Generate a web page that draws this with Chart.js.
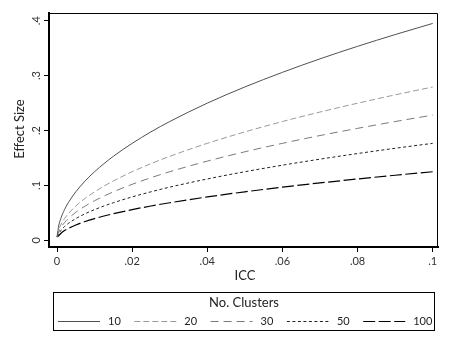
<!DOCTYPE html>
<html>
<head>
<meta charset="utf-8">
<script src="https://cdn.jsdelivr.net/npm/chart.js@4.4.1/dist/chart.umd.min.js"></script>
<style>
html,body{margin:0;padding:0;background:#fff;}
canvas{display:block;}
</style>
</head>
<body>
<canvas id="c" width="452" height="347"></canvas>
<script>
// ---- data ----
const icc   = [0, 0.0005, 0.001, 0.002, 0.003, 0.005, 0.0075, 0.01, 0.0125, 0.015, 0.02, 0.025, 0.03, 0.04, 0.05, 0.06, 0.07, 0.08, 0.09, 0.1];
const es10  = [0.006, 0.0279, 0.0395, 0.0559, 0.0684, 0.0883, 0.1082, 0.1249, 0.1396, 0.1530, 0.1766, 0.1975, 0.2163, 0.2498, 0.2793, 0.3059, 0.3305, 0.3533, 0.3747, 0.3950];
const es20  = [0.006, 0.0197, 0.0279, 0.0395, 0.0484, 0.0624, 0.0765, 0.0883, 0.0987, 0.1081, 0.1249, 0.1396, 0.1529, 0.1766, 0.1974, 0.2163, 0.2336, 0.2497, 0.2649, 0.2792];
const es30  = [0.006, 0.0161, 0.0228, 0.0322, 0.0395, 0.0510, 0.0624, 0.0721, 0.0806, 0.0883, 0.1020, 0.1140, 0.1249, 0.1442, 0.1612, 0.1766, 0.1908, 0.2039, 0.2163, 0.2280];
const es50  = [0.006, 0.0125, 0.0177, 0.0250, 0.0306, 0.0395, 0.0484, 0.0559, 0.0625, 0.0684, 0.0790, 0.0883, 0.0968, 0.1117, 0.1249, 0.1368, 0.1478, 0.1580, 0.1676, 0.1766];
const es100 = [0.006, 0.0088, 0.0125, 0.0177, 0.0216, 0.0279, 0.0342, 0.0395, 0.0442, 0.0484, 0.0559, 0.0625, 0.0684, 0.0790, 0.0883, 0.0968, 0.1045, 0.1117, 0.1185, 0.1249];
const clusterLabels = ['10', '20', '30', '50', '100'];
const xTickValues = [0, 0.02, 0.04, 0.06, 0.08, 0.1];
const xTickLabels = ['0', '.02', '.04', '.06', '.08', '.1'];
const yTickValues = [0, 0.1, 0.2, 0.3, 0.4];
const yTickLabels = ['0', '.1', '.2', '.3', '.4'];
const xTitle = 'ICC';
const yTitle = 'Effect Size';
const legendTitle = 'No. Clusters';

// ---- styles ----
const seriesValues = [es10, es20, es30, es50, es100];
const styles = [
  {color: '#505050', dash: [], width: 1},
  {color: '#9a9a9a', dash: [6, 3], width: 1},
  {color: '#7a7a7a', dash: [8, 5], width: 1},
  {color: '#222222', dash: [3, 2.5], width: 1},
  {color: '#000000', dash: [12, 3.5], width: 1.2}
];
const FONT = 'Lato, "Open Sans", sans-serif';

const datasets = clusterLabels.map((lab, i) => ({
  label: lab,
  data: icc.map((x, j) => ({x: x, y: seriesValues[i][j]})),
  borderColor: styles[i].color,
  borderDash: styles[i].dash,
  borderWidth: styles[i].width,
  pointRadius: 0,
  fill: false,
  cubicInterpolationMode: 'monotone'
}));

const decor = {
  id: 'decor',
  afterDraw(chart) {
    const ctx = chart.ctx;
    const a = chart.chartArea;
    const ys = chart.scales.y;
    ctx.save();
    // thin top/right frame
    ctx.strokeStyle = '#000';
    ctx.lineWidth = 1;
    ctx.beginPath();
    ctx.moveTo(a.left, a.top + 0.5);
    ctx.lineTo(a.right - 0.5, a.top + 0.5);
    ctx.lineTo(a.right - 0.5, a.bottom);
    ctx.stroke();
    // rotated y tick labels
    ctx.fillStyle = '#333';
    ctx.font = '11px ' + FONT;
    ctx.textAlign = 'center';
    ctx.textBaseline = 'middle';
    yTickValues.forEach((v, i) => {
      const py = ys.getPixelForValue(v);
      ctx.save();
      ctx.translate(36.5, py);
      ctx.rotate(-Math.PI / 2);
      ctx.fillText(yTickLabels[i], 0, 0);
      ctx.restore();
    });
    // axis titles
    ctx.font = '13px ' + FONT;
    ctx.fillStyle = '#222';
    ctx.save();
    ctx.translate(20, 129);
    ctx.rotate(-Math.PI / 2);
    ctx.fillText(yTitle, 0, 0);
    ctx.restore();
    ctx.fillText(xTitle, 245, 276);
    // legend box
    ctx.strokeStyle = '#000';
    ctx.lineWidth = 1;
    ctx.strokeRect(53.5, 292.5, 381, 38);
    ctx.font = '13px ' + FONT;
    ctx.fillStyle = '#222';
    ctx.fillText(legendTitle, 244, 303);
    ctx.font = '11px ' + FONT;
    ctx.textAlign = 'left';
    chart.data.datasets.forEach((ds, i) => {
      const x0 = 58 + i * 76.3;
      const yL = 321.5;
      ctx.save();
      ctx.strokeStyle = ds.borderColor;
      ctx.lineWidth = ds.borderWidth;
      ctx.setLineDash(ds.borderDash);
      ctx.beginPath();
      ctx.moveTo(x0, yL);
      ctx.lineTo(x0 + 42, yL);
      ctx.stroke();
      ctx.restore();
      ctx.fillStyle = '#222';
      ctx.fillText(ds.label, x0 + 50, yL);
    });
    ctx.restore();
  }
};

new Chart(document.getElementById('c'), {
  type: 'line',
  data: {datasets: datasets},
  options: {
    responsive: false,
    animation: false,
    layout: {padding: {left: 0, top: 13, right: 14, bottom: 0}},
    plugins: {legend: {display: false}, tooltip: {enabled: false}},
    scales: {
      x: {
        type: 'linear',
        min: -0.00213,
        max: 0.10141,
        afterFit(s) { s.height = 100; },
        afterBuildTicks(s) { s.ticks = xTickValues.map(v => ({value: v})); },
        ticks: {
          font: {size: 11, family: FONT},
          color: '#333',
          padding: 3,
          maxRotation: 0,
          callback: (v, i) => xTickLabels[i]
        },
        grid: {display: true, drawOnChartArea: false, drawTicks: true, tickLength: 5, tickColor: '#000', tickWidth: 1},
        border: {display: true, color: '#000', width: 2}
      },
      y: {
        type: 'linear',
        min: -0.0122,
        max: 0.414,
        afterFit(s) { s.width = 49; },
        afterBuildTicks(s) { s.ticks = yTickValues.map(v => ({value: v})); },
        ticks: {
          font: {size: 11, family: FONT},
          color: 'rgba(0,0,0,0)',
          padding: 3,
          callback: (v, i) => yTickLabels[i]
        },
        grid: {display: true, drawOnChartArea: false, drawTicks: true, tickLength: 5, tickColor: '#000', tickWidth: 1},
        border: {display: true, color: '#000', width: 2}
      }
    }
  },
  plugins: [decor]
});
</script>
</body>
</html>
